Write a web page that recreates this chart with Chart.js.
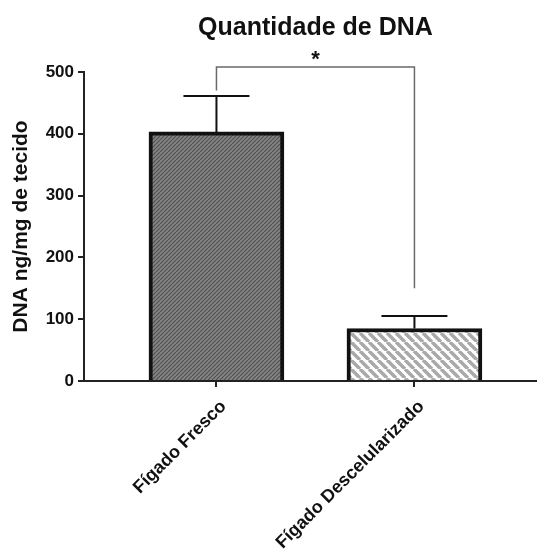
<!DOCTYPE html>
<html>
<head>
<meta charset="utf-8">
<script src="https://cdn.jsdelivr.net/npm/chart.js@4.4.1/dist/chart.umd.min.js"></script>
<style>
  html, body { margin: 0; padding: 0; background: #fff; }
  #wrap { width: 537px; height: 554px; position: relative; }
</style>
</head>
<body>
<div id="wrap"><canvas id="dnaChart"></canvas></div>
<script>
// data
const categories = ['Fígado Fresco', 'Fígado Descelularizado'];
const means = [403, 85];
const sds = [58, 20];
const yTicks = [0, 100, 200, 300, 400, 500];
// significance bracket: left leg end, top, right leg end (y units)
const bracket = [470, 508, 150];
const sigMark = '*';

const FONT = 'Arial, "Liberation Sans", Helvetica, sans-serif';

// hatch patterns
function makeHatch(size, bg, fg, lw, backslash) {
  const c = document.createElement('canvas');
  c.width = size; c.height = size;
  const g = c.getContext('2d');
  g.fillStyle = bg;
  g.fillRect(0, 0, size, size);
  g.strokeStyle = fg;
  g.lineWidth = lw;
  g.beginPath();
  for (let k = -1; k <= 1; k++) {
    if (backslash) {
      g.moveTo(k * size, 0);
      g.lineTo(k * size + size, size);
    } else {
      g.moveTo(k * size, size);
      g.lineTo(k * size + size, 0);
    }
  }
  g.stroke();
  return document.getElementById('dnaChart').getContext('2d').createPattern(c, 'repeat');
}

const fills = [
  makeHatch(4, '#858585', '#505050', 1.2, false),
  makeHatch(9, '#ffffff', '#a9a9a9', 3.5, true)
];

// error bars, bracket, title
const extras = {
  id: 'extras',
  afterDatasetsDraw(chart) {
    const ctx = chart.ctx;
    const x = chart.scales.x, y = chart.scales.y;
    ctx.save();
    // error bars (upper only)
    ctx.strokeStyle = '#111';
    ctx.lineWidth = 2;
    means.forEach((m, i) => {
      const px = x.getPixelForValue(i);
      const top = y.getPixelForValue(m + sds[i]);
      const base = y.getPixelForValue(m);
      ctx.beginPath();
      ctx.moveTo(px, base);
      ctx.lineTo(px, top);
      ctx.moveTo(px - 33, top);
      ctx.lineTo(px + 33, top);
      ctx.stroke();
    });
    // bracket
    const x0 = x.getPixelForValue(0), x1 = x.getPixelForValue(1);
    ctx.strokeStyle = '#6a6a6a';
    ctx.lineWidth = 1.5;
    ctx.beginPath();
    ctx.moveTo(x0, y.getPixelForValue(bracket[0]));
    ctx.lineTo(x0, y.getPixelForValue(bracket[1]));
    ctx.lineTo(x1, y.getPixelForValue(bracket[1]));
    ctx.lineTo(x1, y.getPixelForValue(bracket[2]));
    ctx.stroke();
    // asterisk and title
    const cx = x.getPixelForValue(0.5);
    ctx.fillStyle = '#111';
    ctx.textAlign = 'center';
    ctx.textBaseline = 'alphabetic';
    ctx.font = 'bold 22px ' + FONT;
    ctx.fillText(sigMark, cx, 66);
    ctx.font = 'bold 25px ' + FONT;
    ctx.fillText('Quantidade de DNA', cx, 35);
    ctx.restore();
  }
};

const ctx = document.getElementById('dnaChart').getContext('2d');

const chart = new Chart(ctx, {
  type: 'bar',
  data: {
    datasets: [{
      data: means.map((v, i) => ({ x: i, y: v })),
      backgroundColor: fills,
      borderColor: '#111',
      borderWidth: { top: 4, left: 4, right: 4, bottom: 0 },
      borderSkipped: false,
      barThickness: 135
    }]
  },
  options: {
    responsive: true,
    maintainAspectRatio: false,
    animation: false,
    layout: { padding: { top: 72, right: 0, left: 0, bottom: 0 } },
    plugins: {
      legend: { display: false },
      tooltip: { enabled: false },
      title: { display: false }
    },
    scales: {
      x: {
        type: 'linear',
        min: -0.669,
        max: 1.619,
        offset: false,
        grid: { display: true, offset: false, drawOnChartArea: false, drawTicks: true, tickLength: 6, color: '#222', lineWidth: 2 },
        border: { color: '#222', width: 2 },
        afterBuildTicks(axis) {
          axis.ticks = categories.map((c, i) => ({ value: i }));
        },
        afterFit(axis) { axis.height = 173; },
        ticks: {
          autoSkip: false,
          maxRotation: 45,
          minRotation: 45,
          padding: 9,
          labelOffset: 7,
          color: '#111',
          font: { family: FONT, size: 18, weight: 'bold' },
          callback: (v) => categories[v]
        }
      },
      y: {
        min: 0,
        max: 500,
        grid: { display: true, drawOnChartArea: false, drawTicks: true, tickLength: 6, color: '#222', lineWidth: 2 },
        border: { color: '#222', width: 2 },
        afterBuildTicks(axis) {
          axis.ticks = yTicks.map(v => ({ value: v }));
        },
        afterFit(axis) { axis.width = 84; },
        ticks: {
          padding: 4,
          color: '#111',
          font: { family: FONT, size: 17, weight: 'bold' }
        },
        title: {
          display: true,
          text: 'DNA ng/mg de tecido',
          color: '#111',
          font: { family: FONT, size: 21, weight: 'bold' },
          padding: { top: 9, bottom: 2 }
        }
      }
    }
  },
  plugins: [extras]
});
</script>
</body>
</html>
